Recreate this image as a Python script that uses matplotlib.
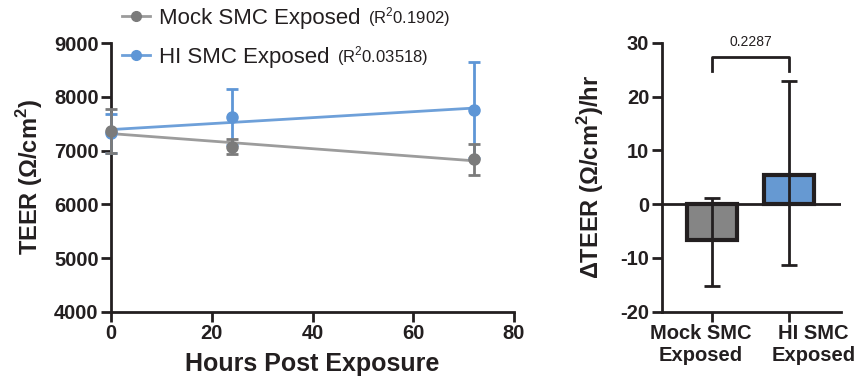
import numpy as np
import matplotlib
matplotlib.use("Agg")
import matplotlib.pyplot as plt
from matplotlib.lines import Line2D
from matplotlib.transforms import ScaledTranslation

plt.rcParams['font.family'] = ['Liberation Sans', 'DejaVu Sans']
plt.rcParams['mathtext.fontset'] = 'custom'
plt.rcParams['mathtext.rm'] = 'Liberation Sans'
plt.rcParams['mathtext.bf'] = 'Liberation Sans:bold'
plt.rcParams['axes.unicode_minus'] = False

# time course data (means +/- SD)
hours = [0, 24, 72]
mock_mean = [7365, 7075, 6835]
mock_sd = [415, 140, 295]
hi_mean = [7320, 7630, 7755]
hi_sd = [360, 520, 885]
series_names = ["Mock SMC Exposed", "HI SMC Exposed"]
r2_labels = ["(R$^2$0.1902)", "(R$^2$0.03518)"]

# rate of change data
groups = ["Mock SMC\nExposed", "HI SMC\nExposed"]
delta_mean = [-6.7, 5.4]
delta_lo = [8.6, 16.8]
delta_hi = [7.9, 17.4]
p_value = "0.2287"

ink = "#231f20"
grey_mk = "#7b7b7b"
grey_ln = "#9c9c9c"
blue_mk = "#5e96d6"
blue_ln = "#6ea0d9"
bar_grey = "#858585"
bar_blue = "#6699d2"

fig = plt.figure(figsize=(8.62, 3.83), dpi=100)
ax1 = fig.add_axes([0.1288, 0.1854, 0.4675, 0.7023])
ax2 = fig.add_axes([0.7677, 0.1862, 0.2077, 0.7023])

lw = 2.0
for ax in (ax1, ax2):
    for s in ("top", "right"):
        ax.spines[s].set_visible(False)
    for s in ("left", "bottom"):
        ax.spines[s].set_linewidth(lw)
        ax.spines[s].set_color(ink)
    ax.tick_params(width=lw, length=7, color=ink, labelsize=14.5, pad=2,
                   labelcolor=ink)

# left panel
xfit = np.array([0, 72])
for mean, col in ((mock_mean, grey_ln), (hi_mean, blue_ln)):
    k, b = np.polyfit(hours, mean, 1)
    ax1.plot(xfit, k * xfit + b, color=col, lw=2, zorder=2)
for mean, sd, col, z in ((hi_mean, hi_sd, blue_mk, 3), (mock_mean, mock_sd, grey_mk, 4)):
    ax1.errorbar(hours, mean, yerr=sd, fmt='o', color=col, ms=8, elinewidth=2,
                 capsize=4, capthick=2, zorder=z, clip_on=False)

ax1.set_xlim(0, 80)
ax1.set_ylim(4000, 9000)
ax1.set_xticks([0, 20, 40, 60, 80])
ax1.set_yticks(range(4000, 9001, 1000))
for lab in ax1.get_xticklabels() + ax1.get_yticklabels():
    lab.set_fontweight("bold")
ax1.set_xlabel("Hours Post Exposure", fontsize=18, fontweight="bold", color=ink)
ax1.xaxis.set_label_coords(0.5, -0.15)
ax1.set_ylabel("TEER (Ω/cm$^\\mathbf{2}$)", fontsize=17, fontweight="bold", color=ink)
ax1.yaxis.set_label_coords(-0.163, 0.5)

handles = [Line2D([], [], color=grey_ln, marker='o', ms=7, lw=2,
                  markerfacecolor=grey_mk, markeredgecolor=grey_mk),
           Line2D([], [], color=blue_ln, marker='o', ms=7, lw=2,
                  markerfacecolor=blue_mk, markeredgecolor=blue_mk)]
leg = fig.legend(handles, series_names, loc="upper left",
                 bbox_to_anchor=(122 / 862, 1 - 8 / 383), frameon=False,
                 fontsize=16, handlelength=1.26, handletextpad=0.4,
                 borderpad=0, borderaxespad=0, labelspacing=0.8)
for txt in leg.get_texts():
    txt.set_color(ink)

# right panel
xpos = np.arange(len(groups))
ax2.bar(xpos, delta_mean, width=0.65, color=[bar_grey, bar_blue],
        edgecolor=ink, linewidth=3, zorder=2)
ax2.errorbar(xpos, delta_mean, yerr=[delta_lo, delta_hi], fmt='none',
             ecolor=ink, elinewidth=2, capsize=5.5, capthick=2, zorder=3)
ax2.axhline(0, color=ink, lw=2, zorder=1)
ax2.set_xlim(-0.66, 1.67)
ax2.set_ylim(-20, 30)
ax2.set_yticks(range(-20, 31, 10))
ax2.set_xticks(xpos)
ax2.set_xticklabels(groups)
for lab in ax2.get_xticklabels() + ax2.get_yticklabels():
    lab.set_fontweight("bold")
for lab, dx in zip(ax2.get_xticklabels(), (-12, 24)):
    lab.set_transform(lab.get_transform() + ScaledTranslation(dx / 100, 0, fig.dpi_scale_trans))
ax2.set_ylabel("ΔTEER (Ω/cm$^\\mathbf{2}$)/hr", fontsize=17, fontweight="bold", color=ink)
ax2.yaxis.set_label_coords(-0.31, 0.5)

ax2.plot([0, 0, 1, 1], [24.8, 27.3, 27.3, 24.8], color=ink, lw=2,
         clip_on=False)
ax2.text(0.5, 28.8, p_value, ha="center", va="bottom", fontsize=10, color=ink)

# R^2 notes after legend labels
fig.canvas.draw()
W, H = fig.canvas.get_width_height()
for txt, r2 in zip(leg.get_texts(), r2_labels):
    bb = txt.get_window_extent()
    fig.text((bb.x1 + 7) / W, (bb.y0 + bb.y1) / 2 / H + 1.5 / H, r2,
             ha="left", va="center", fontsize=12, color=ink)

fig.savefig("out.png", dpi=100)
